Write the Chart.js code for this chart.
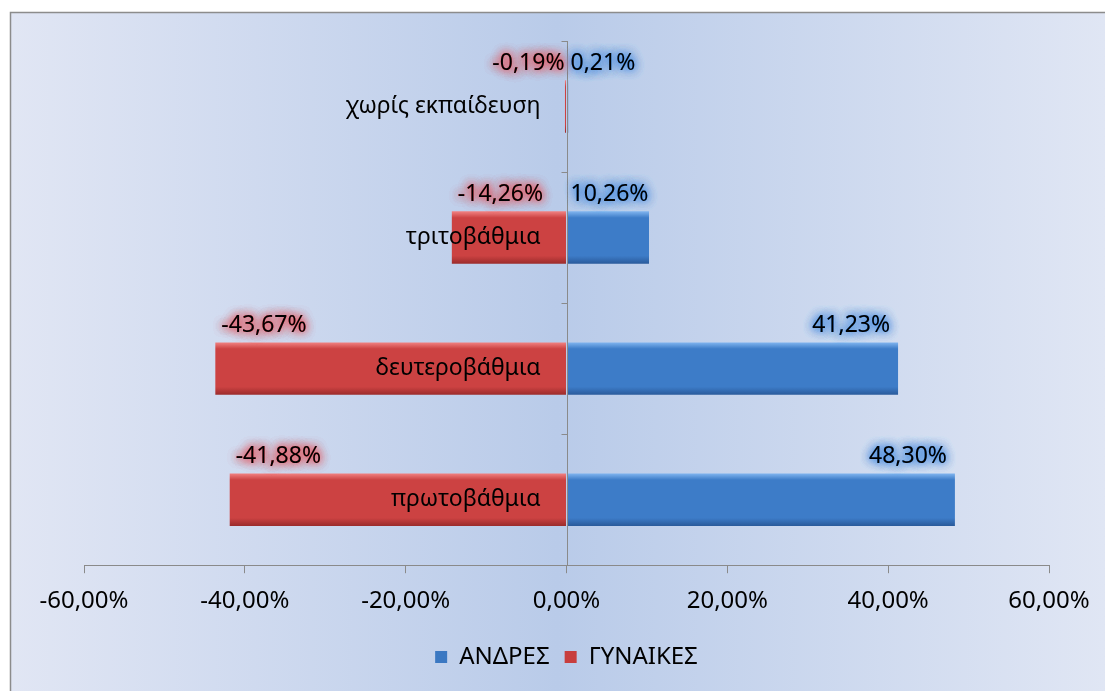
<!DOCTYPE html>
<html>
<head>
<meta charset="utf-8">
<script src="https://cdn.jsdelivr.net/npm/chart.js@4.4.0/dist/chart.umd.min.js"></script>
<style>
  html, body { margin: 0; padding: 0; background: #fff; }
  #wrap { width: 1105px; height: 691px; position: relative; }
</style>
</head>
<body>
<div id="wrap"><canvas id="eduChart"></canvas></div>
<script>
// data, top row first
const categories = ['χωρίς εκπαίδευση', 'τριτοβάθμια', 'δευτεροβάθμια', 'πρωτοβάθμια'];
const menValues = [0.21, 10.26, 41.23, 48.30];
const womenValues = [-0.19, -14.26, -43.67, -41.88];
const seriesNames = ['ΑΝΔΡΕΣ', 'ΓΥΝΑΙΚΕΣ'];
const xTicks = [-60, -40, -20, 0, 20, 40, 60];

const FONT = "'Noto Sans', 'Open Sans', sans-serif";

function fmtPct(v) {
  return v.toFixed(2).replace('.', ',') + '%';
}

// bevelled bar fill, built per bar from the y scale
function barFill(top, mid, bottom) {
  return (ctx) => {
    const chart = ctx.chart;
    const y = chart.scales.y;
    if (!chart.chartArea || !y || ctx.dataIndex === undefined) return mid;
    const c = y.getPixelForValue(ctx.dataIndex);
    const h = 26;
    const g = chart.ctx.createLinearGradient(0, c - h, 0, c + h);
    g.addColorStop(0, top);
    g.addColorStop(0.12, mid);
    g.addColorStop(0.85, mid);
    g.addColorStop(1, bottom);
    return g;
  };
}

// frame + soft blue background
const backdrop = {
  id: 'backdrop',
  beforeDraw(chart) {
    const ctx = chart.ctx;
    ctx.save();
    ctx.fillStyle = '#ffffff';
    ctx.fillRect(0, 0, chart.width, chart.height);
    const g = ctx.createLinearGradient(10, 0, chart.width, 0);
    g.addColorStop(0, '#e1e6f4');
    g.addColorStop(0.5, '#b9cbe9');
    g.addColorStop(1, '#e0e6f4');
    ctx.fillStyle = g;
    ctx.fillRect(10, 12, chart.width - 10, chart.height - 12);
    ctx.strokeStyle = '#8c8c8c';
    ctx.lineWidth = 1.5;
    ctx.beginPath();
    ctx.moveTo(10.5, chart.height);
    ctx.lineTo(10.5, 12.5);
    ctx.lineTo(chart.width, 12.5);
    ctx.stroke();
    ctx.restore();
  }
};

// vertical axis at zero with small ticks between categories
const zeroAxis = {
  id: 'zeroAxis',
  afterDatasetsDraw(chart) {
    const ctx = chart.ctx;
    const x0 = Math.round(chart.scales.x.getPixelForValue(0)) + 0.5;
    const y = chart.scales.y;
    ctx.save();
    ctx.strokeStyle = '#8a8a8a';
    ctx.lineWidth = 1;
    ctx.beginPath();
    ctx.moveTo(x0, chart.chartArea.top);
    ctx.lineTo(x0, chart.chartArea.bottom);
    for (let i = 0; i < categories.length; i++) {
      const yy = Math.round(y.getPixelForValue(i - 0.5)) + 0.5;
      ctx.moveTo(x0 - 6, yy);
      ctx.lineTo(x0, yy);
    }
    ctx.stroke();
    ctx.restore();
  }
};

// category names next to the zero line, values with a glow
const labelsPlugin = {
  id: 'labelsPlugin',
  afterDraw(chart) {
    const ctx = chart.ctx;
    const xs = chart.scales.x;
    const ys = chart.scales.y;
    const x0 = xs.getPixelForValue(0);
    ctx.save();
    ctx.textBaseline = 'middle';
    ctx.font = '23px ' + FONT;
    ctx.fillStyle = '#000';
    ctx.textAlign = 'right';
    categories.forEach((c, i) => {
      ctx.fillText(c, x0 - 26, ys.getPixelForValue(i));
    });

    const glow = [['rgba(80,145,225,0.95)', menValues], ['rgba(225,95,105,0.95)', womenValues]];
    ctx.font = '23px ' + FONT;
    glow.forEach(([col, vals]) => {
      vals.forEach((v, i) => {
        const txt = fmtPct(v);
        const w = ctx.measureText(txt).width;
        const end = xs.getPixelForValue(v);
        const yy = ys.getPixelForValue(i) - 43;
        let left;
        if (v >= 0) {
          left = Math.max(end - 8, x0 + w + 4) - w;
        } else {
          left = Math.min(end + 6, x0 - w - 2);
        }
        ctx.textAlign = 'left';
        ctx.shadowColor = col;
        ctx.shadowBlur = 10;
        ctx.fillStyle = col;
        for (let k = 0; k < 4; k++) ctx.fillText(txt, left, yy);
        ctx.shadowBlur = 0;
        ctx.fillStyle = '#000';
        ctx.fillText(txt, left, yy);
      });
    });
    ctx.restore();
  }
};

const ctx = document.getElementById('eduChart').getContext('2d');
new Chart(ctx, {
  type: 'bar',
  data: {
    labels: categories,
    datasets: [
      {
        label: seriesNames[0],
        data: menValues,
        backgroundColor: barFill('#7eb3ee', '#3d7cc8', '#2a5b9c'),
        borderColor: '#2e64a8',
        borderWidth: 0,
        legendColor: '#3b78c2'
      },
      {
        label: seriesNames[1],
        data: womenValues,
        backgroundColor: barFill('#f08080', '#cc4242', '#9c2c2c'),
        borderColor: '#a83030',
        borderWidth: 0,
        legendColor: '#c83e3e'
      }
    ]
  },
  options: {
    indexAxis: 'y',
    responsive: true,
    maintainAspectRatio: false,
    animation: false,
    layout: { padding: { left: 84, right: 56, top: 41, bottom: 12 } },
    categoryPercentage: 0.8,
    barPercentage: 0.5,
    scales: {
      x: {
        stacked: true,
        min: -60,
        max: 60,
        afterBuildTicks: (s) => { s.ticks = xTicks.map(v => ({ value: v })); },
        ticks: {
          color: '#000',
          font: { family: FONT, size: 24 },
          padding: 14,
          maxRotation: 0,
          callback: (v) => fmtPct(v)
        },
        grid: {
          drawOnChartArea: false,
          tickLength: 8,
          color: '#8a8a8a'
        },
        border: { color: '#8a8a8a' }
      },
      y: {
        stacked: true,
        display: false
      }
    },
    plugins: {
      tooltip: { enabled: false },
      legend: {
        position: 'bottom',
        labels: {
          color: '#000',
          font: { family: FONT, size: 24 },
          boxWidth: 12,
          boxHeight: 12,
          padding: 15,
          generateLabels: (chart) => chart.data.datasets.map((d, i) => ({
            text: d.label,
            fillStyle: d.legendColor,
            strokeStyle: d.legendColor,
            lineWidth: 0,
            datasetIndex: i
          }))
        }
      }
    }
  },
  plugins: [backdrop, zeroAxis, labelsPlugin]
});
</script>
</body>
</html>
